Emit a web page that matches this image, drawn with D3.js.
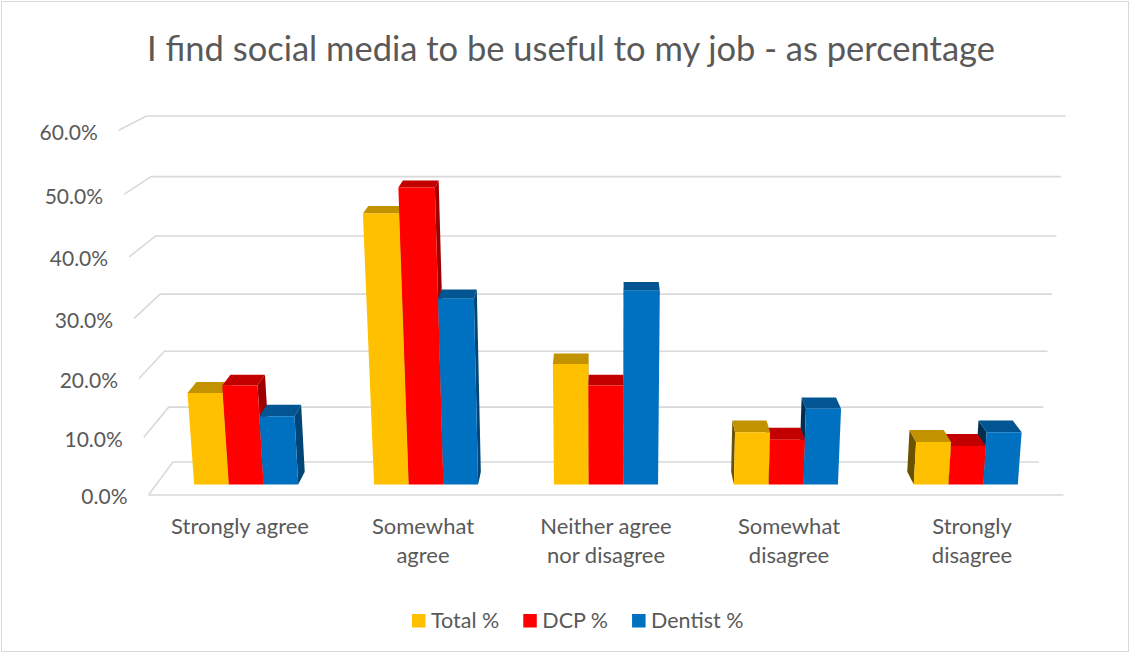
<!DOCTYPE html>
<html>
<head>
<meta charset="utf-8">
<script src="https://cdn.jsdelivr.net/npm/d3@7"></script>
<style>
  body { margin: 0; background: #fff; }
  svg { display: block; font-family: Lato, "Open Sans", sans-serif; }
</style>
</head>
<body>
<svg id="chart" width="1130" height="653"></svg>
<script>
// ---- data ----
const categories = ["Strongly agree", "Somewhat\nagree", "Neither agree\nnor disagree", "Somewhat\ndisagree", "Strongly\ndisagree"];
const seriesNames = ["Total %", "DCP %", "Dentist %"];
const totalPct   = [16.0, 46.0, 21.0, 9.2, 7.5];
const dcpPct     = [17.3, 50.2, 17.3, 7.9, 6.8];
const dentistPct = [12.0, 32.0, 33.3, 13.3, 9.2];
const yTicks = [0, 10, 20, 30, 40, 50, 60];
const seriesColors = ["#FFC000", "#FF0000", "#0070C0"];
const titleText = "I find social media to be useful to my job - as percentage";

const seriesValues = [totalPct, dcpPct, dentistPct];

// ---- 3D scene: camera at origin, pitched down, simple perspective ----
const W = 1130, H = 653;
const svg = d3.select("#chart");
const pitch = 15 * Math.PI / 180;
const focal = 1559, cx = 606, cy = 296;
const cosP = Math.cos(pitch), sinP = Math.sin(pitch);
const zFront = 3.179, zBack = 3.378;

function project(x, y, z) {
  const yc = y * cosP + z * sinP;
  const zc = -y * sinP + z * cosP;
  return [cx + focal * x / zc, cy - focal * yc / zc];
}

// category / series / value scales in scene units
const xScale = d3.scaleBand().domain(categories).range([-1, 1])
  .paddingInner(0.4215).paddingOuter(0.21075);
const sScale = d3.scaleBand().domain(seriesNames).range([0, xScale.bandwidth()]);
const yScale = d3.scaleLinear().domain([0, 60]).range([-1.302, -1.302 + 0.8023]);

const gridColor = "#D9D9D9";
const textColor = "#595959";

// chart border
svg.append("rect").attr("x", 1.5).attr("y", 1.5).attr("width", W - 3).attr("height", H - 3)
  .attr("fill", "#fff").attr("stroke", gridColor).attr("stroke-width", 1);

// title
svg.append("text").attr("x", 571).attr("y", 61).attr("text-anchor", "middle")
  .attr("fill", textColor).style("font-size", "34.5px").text(titleText);

// ---- walls: gridlines on back wall and left side wall ----
const line = d3.line();
const grid = svg.append("g").attr("fill", "none").attr("stroke", gridColor).attr("stroke-width", 1.6);
yTicks.forEach(v => {
  const y = yScale(v);
  grid.append("path").attr("d", line([project(-1, y, zFront), project(-1, y, zBack), project(1, y, zBack)]));
});
grid.append("path").attr("d", line([project(-1, yScale(0), zFront), project(1, yScale(0), zFront)]));

// y tick labels
const yLab = svg.append("g").attr("fill", textColor).style("font-size", "21px").attr("text-anchor", "end");
yTicks.forEach(v => {
  const p = project(-1, yScale(v), zFront);
  yLab.append("text").attr("x", p[0] - 21).attr("y", p[1] + 2).attr("dy", "0.35em")
    .text(d3.format(".1f")(v) + "%");
});

// ---- bars ----
function shade(c, k) {
  const col = d3.rgb(c);
  return d3.rgb(col.r * k, col.g * k, col.b * k).formatHex();
}
const bars = [];
categories.forEach((cat, i) => {
  seriesNames.forEach((s, j) => {
    const x0 = xScale(cat) + sScale(s);
    const x1 = x0 + sScale.bandwidth();
    bars.push({ x0, x1, v: seriesValues[j][i], color: seriesColors[j] });
  });
});
const depth = sScale.bandwidth();
const zMid = (zFront + zBack) / 2;
const bz0 = zMid - depth / 2, bz1 = zMid + depth / 2;

// paint from the outside in so inner bars cover the side faces of outer ones
bars.sort((a, b) => Math.max(Math.abs(b.x0), Math.abs(b.x1)) - Math.max(Math.abs(a.x0), Math.abs(a.x1)));

const barG = svg.append("g");
const poly = pts => "M" + pts.map(p => p.join(",")).join("L") + "Z";
bars.forEach(b => {
  const y0 = yScale(0), y1 = yScale(b.v);
  const g = barG.append("g");
  if (b.x1 < 0) {
    g.append("path").attr("fill", shade(b.color, 0.62))
      .attr("d", poly([project(b.x1, y0, bz0), project(b.x1, y0, bz1), project(b.x1, y1, bz1), project(b.x1, y1, bz0)]));
  } else if (b.x0 > 0) {
    g.append("path").attr("fill", shade(b.color, 0.42))
      .attr("d", poly([project(b.x0, y0, bz0), project(b.x0, y0, bz1), project(b.x0, y1, bz1), project(b.x0, y1, bz0)]));
  }
  g.append("path").attr("fill", shade(b.color, 0.76))
    .attr("d", poly([project(b.x0, y1, bz0), project(b.x1, y1, bz0), project(b.x1, y1, bz1), project(b.x0, y1, bz1)]));
  g.append("path").attr("fill", b.color)
    .attr("d", poly([project(b.x0, y0, bz0), project(b.x1, y0, bz0), project(b.x1, y1, bz0), project(b.x0, y1, bz0)]));
});

// ---- category labels along the front floor edge ----
const xLab = svg.append("g").attr("fill", textColor).style("font-size", "22px").attr("text-anchor", "middle");
categories.forEach(cat => {
  const p = project(xScale(cat) + xScale.bandwidth() / 2, yScale(0), zFront);
  const t = xLab.append("text").attr("x", p[0]).attr("y", p[1] + 39);
  cat.split("\n").forEach((ln, k) => {
    t.append("tspan").attr("x", p[0]).attr("dy", k === 0 ? 0 : 29).text(ln);
  });
});

// ---- legend ----
const legend = svg.append("g").style("font-size", "21.5px");
let lx = 412;
seriesNames.forEach((s, j) => {
  legend.append("rect").attr("x", lx).attr("y", 614).attr("width", 13.5).attr("height", 13.5)
    .attr("fill", seriesColors[j]);
  const t = legend.append("text").attr("x", lx + 19).attr("y", 628).attr("fill", textColor).text(s);
  lx += 19 + t.node().getComputedTextLength() + 24;
});
</script>
</body>
</html>
